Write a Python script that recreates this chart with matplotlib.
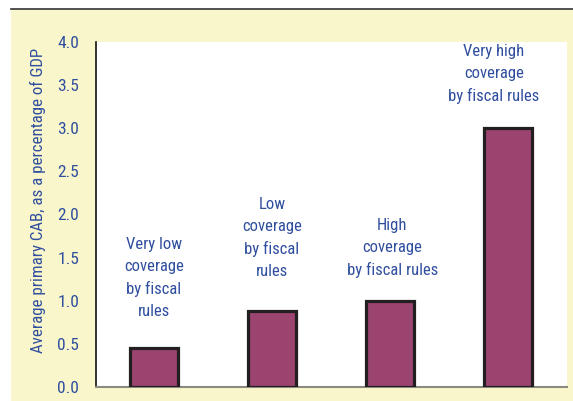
import matplotlib
matplotlib.use("Agg")
import matplotlib.pyplot as plt
from matplotlib.patches import Rectangle
from matplotlib.lines import Line2D

categories = ["Very low\ncoverage\nby fiscal\nrules",
              "Low\ncoverage\nby fiscal\nrules",
              "High\ncoverage\nby fiscal rules",
              "Very high\ncoverage\nby fiscal rules"]
values = [0.45, 0.88, 1.0, 3.0]
yticks = [0.0, 0.5, 1.0, 1.5, 2.0, 2.5, 3.0, 3.5, 4.0]
ylabel = "Average primary CAB, as a percentage of GDP"

# label placement (style)
label_x = [0.0, 0.0, 0.02, -0.12]
label_y = [1.26, 1.73, 1.61, 3.63]

plt.rcParams['font.family'] = ["Roboto Condensed", "Liberation Sans", "DejaVu Sans"]

cream = "#F9F6CB"
blue = "#2F4E9E"
barc = "#9B4470"

W, H = 573, 401
fig = plt.figure(figsize=(W/100, H/100), dpi=100)
fig.patch.set_facecolor("white")
fig.patches.append(Rectangle((11/W, 0), 1 - 11/W, 1 - 9/H, transform=fig.transFigure,
                             facecolor=cream, edgecolor="none", zorder=-5))
fig.lines.append(Line2D([11/W, 1], [1 - 9/H, 1 - 9/H], transform=fig.transFigure,
                        color="#333333", lw=1.2, zorder=-4))

ax = fig.add_axes([96/W, 1 - 387/H, (567 - 96)/W, (387 - 42)/H])
ax.set_zorder(1)
ax.set_facecolor("white")
x = list(range(len(values)))
ax.bar(x, values, width=0.41, color=barc, edgecolor="#231F20", linewidth=2.3, zorder=3)
ax.set_xlim(-0.49, 3.5)
ax.set_ylim(0, 4.0)
ax.set_yticks(yticks)
ax.set_yticklabels([f"{t:.1f}" for t in yticks], color=blue, fontsize=12.5)
ax.set_xticks([])
ax.tick_params(axis='y', length=0, pad=12)
for s in ["top", "right"]:
    ax.spines[s].set_visible(False)
ax.spines["left"].set_color("#111111")
ax.spines["left"].set_linewidth(1.2)
ax.spines["bottom"].set_color("#8a8a80")
ax.spines["bottom"].set_linewidth(1.5)
ax.set_ylabel(ylabel, color=blue, fontsize=12.2)
ax.yaxis.set_label_coords(-0.106, 0.542)

for i, lab in enumerate(categories):
    ax.text(x[i] + label_x[i], label_y[i], lab, ha="center", va="center",
            multialignment="center", color=blue, fontsize=12, linespacing=1.56)

fig.savefig("out.png", dpi=100, facecolor=fig.get_facecolor())
